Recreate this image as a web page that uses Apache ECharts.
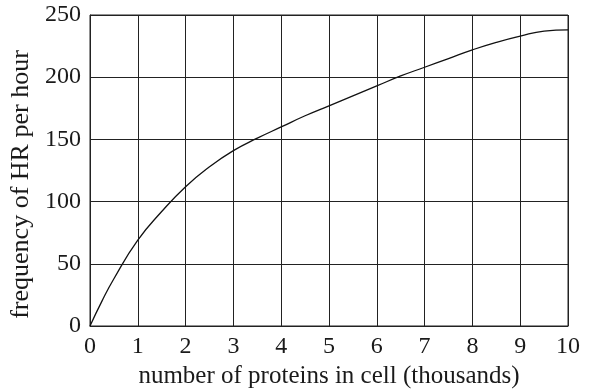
<!DOCTYPE html>
<html>
<head>
<meta charset="utf-8">
<script src="https://cdn.jsdelivr.net/npm/echarts@6/dist/echarts.min.js"></script>
<style>
  html, body { margin: 0; padding: 0; background: #fff; }
  #chart { width: 591px; height: 391px; }
</style>
</head>
<body>
<div id="chart"></div>
<script>
// Protein count (thousands) and homologous recombination frequency
var proteins = [0, 0.25, 0.5, 1, 1.5, 2, 2.5, 3, 3.5, 4, 4.5, 5, 5.5, 6, 6.5, 7, 7.5, 8, 8.5, 9, 9.5, 10];
var hrFrequency = [0, 20, 38, 69, 92, 112, 128, 141, 151, 160, 169, 177, 185, 193, 201, 208, 215, 222, 228, 233, 237, 238];
var xTicks = [0, 1, 2, 3, 4, 5, 6, 7, 8, 9, 10];
var yTicks = [0, 50, 100, 150, 200, 250];

var points = proteins.map(function (p, i) { return [p, hrFrequency[i]]; });
var serif = 'Liberation Serif';
var ink = '#1a1a1a';
var gridLine = { show: true, lineStyle: { color: '#222', width: 1 } };

var chart = echarts.init(document.getElementById('chart'), null, { renderer: 'canvas' });
chart.setOption({
  animation: false,
  grid: {
    left: 90, right: 23, top: 15, bottom: 65,
    outerBoundsMode: 'none', containLabel: false,
    show: true, borderColor: '#222', borderWidth: 1
  },
  xAxis: {
    type: 'value',
    min: xTicks[0], max: xTicks[xTicks.length - 1], interval: 1,
    name: 'number of proteins in cell (thousands)',
    nameLocation: 'middle', nameGap: 38,
    nameTextStyle: { fontFamily: serif, fontSize: 25, color: ink },
    axisLine: { show: true, lineStyle: { color: '#222' } },
    axisTick: { show: false },
    axisLabel: { fontFamily: serif, fontSize: 24, color: ink, margin: 9 },
    splitLine: gridLine
  },
  yAxis: {
    type: 'value',
    min: yTicks[0], max: yTicks[yTicks.length - 1], interval: 50,
    name: 'frequency of HR per hour',
    nameLocation: 'middle', nameGap: 51,
    nameTextStyle: { fontFamily: serif, fontSize: 26, color: ink, padding: [0, 28, 0, 0] },
    axisLine: { show: true, lineStyle: { color: '#222' } },
    axisTick: { show: false },
    axisLabel: { fontFamily: serif, fontSize: 24, color: ink, margin: 9, padding: [4, 0, 0, 0] },
    splitLine: gridLine
  },
  series: [{
    type: 'line',
    data: points,
    smooth: 0.5,
    showSymbol: false,
    lineStyle: { color: '#111', width: 1.3 }
  }]
});
</script>
</body>
</html>
